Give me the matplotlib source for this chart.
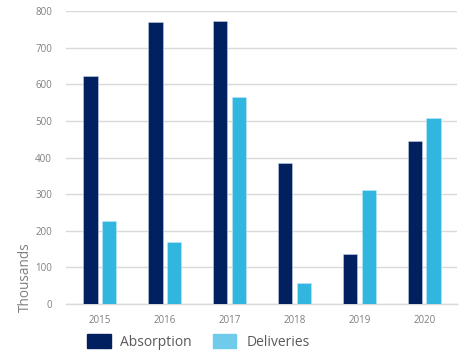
import numpy as np
import matplotlib.pyplot as plt
from matplotlib.patches import Patch

years = ['2015', '2016', '2017', '2018', '2019', '2020']
absorption = [622, 770, 772, 386, 138, 446]
deliveries = [226, 170, 566, 58, 311, 507]

navy = '#002060'
sky = '#31b7df'
grey = '#7f7f7f'

plt.rcParams['font.family'] = ['Open Sans', 'DejaVu Sans']

fig = plt.figure(figsize=(4.61, 3.52), dpi=100)
ax = fig.add_axes([0.143, 0.136, 0.848, 0.833])

x = np.arange(len(years))
w = 0.22
ax.bar(x - 0.142, absorption, w, color=navy, edgecolor='#c8d0e0', linewidth=0.4, zorder=3)
ax.bar(x + 0.142, deliveries, w, color=sky, edgecolor='#bfe8f5', linewidth=0.4, zorder=3)

ax.set_xlim(-0.52, 5.5)
ax.set_ylim(0, 800)
ax.set_yticks(range(0, 801, 100))
ax.set_xticks(x)
ax.set_xticklabels(years)
ax.yaxis.grid(True, color='#d9d9d9', linewidth=1, zorder=0)
for s in ['top', 'right', 'left']:
    ax.spines[s].set_visible(False)
ax.spines['bottom'].set_color('#d9d9d9')
ax.spines['bottom'].set_linewidth(1)
ax.tick_params(length=0, labelsize=7, labelcolor=grey)
ax.tick_params(axis='y', pad=10)
ax.tick_params(axis='x', pad=8)

fig.text(0.055, 0.114, 'Thousands', rotation=90, fontsize=9.8, color=grey,
         ha='center', va='bottom')

handles = [Patch(color=navy), Patch(color='#6ecbea')]
fig.legend(handles, ['Absorption', 'Deliveries'], loc='center', ncol=2,
           bbox_to_anchor=(0.43, 0.028), frameon=False, fontsize=10,
           labelcolor='#595959', handlelength=1.7, handleheight=1.1,
           handletextpad=0.7, columnspacing=1.5)

plt.savefig('out.png', dpi=100)
